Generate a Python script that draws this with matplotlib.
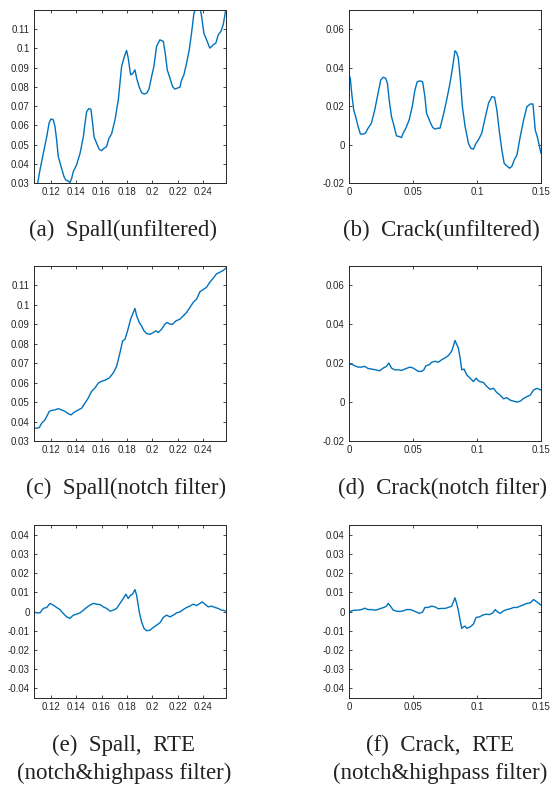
import matplotlib
matplotlib.use("Agg")
import matplotlib.pyplot as plt

# ---------------- data ----------------
# (a) Spall, unfiltered
spall_raw_t = [0.1098, 0.1116, 0.1142, 0.1169, 0.1187, 0.1203, 0.1221, 0.1234, 0.1247, 0.1260,
               0.1286, 0.1305, 0.1318, 0.1339, 0.1352, 0.1365, 0.1378, 0.1404, 0.1431, 0.1457,
               0.1470, 0.1483, 0.1501, 0.1517, 0.1530, 0.1541, 0.1562, 0.1582, 0.1600, 0.1619,
               0.1640, 0.1658, 0.1679, 0.1706, 0.1732, 0.1758, 0.1776, 0.1797, 0.1810, 0.1829,
               0.1844, 0.1863, 0.1876, 0.1897, 0.1915, 0.1934, 0.1955, 0.1973, 0.1994, 0.2012,
               0.2033, 0.2059, 0.2086, 0.2101, 0.2117, 0.2138, 0.2159, 0.2177, 0.2196, 0.2217,
               0.2230, 0.2248, 0.2269, 0.2290, 0.2308, 0.2327, 0.2348, 0.2374, 0.2387, 0.2405,
               0.2426, 0.2452, 0.2478, 0.2499, 0.2518, 0.2539, 0.2557, 0.2578]
spall_raw_v = [0.0300, 0.0368, 0.0454, 0.0540, 0.0610, 0.0633, 0.0628, 0.0593, 0.0524, 0.0437,
               0.0376, 0.0333, 0.0316, 0.0310, 0.0302, 0.0324, 0.0359, 0.0394, 0.0454, 0.0540,
               0.0610, 0.0671, 0.0687, 0.0683, 0.0610, 0.0540, 0.0506, 0.0475, 0.0468, 0.0480,
               0.0489, 0.0532, 0.0555, 0.0628, 0.0732, 0.0906, 0.0949, 0.0989, 0.0949, 0.0862,
               0.0867, 0.0888, 0.0845, 0.0798, 0.0770, 0.0762, 0.0767, 0.0788, 0.0853, 0.0906,
               0.1010, 0.1044, 0.1036, 0.0975, 0.0888, 0.0845, 0.0801, 0.0788, 0.0793, 0.0798,
               0.0836, 0.0862, 0.0923, 0.0992, 0.1079, 0.1183, 0.1215, 0.1215, 0.1166, 0.1079,
               0.1044, 0.1001, 0.1018, 0.1027, 0.1070, 0.1088, 0.1122, 0.1204]

# (b) Crack, unfiltered
crack_raw_t = [0.0000, 0.0010, 0.0024, 0.0037, 0.0052, 0.0071, 0.0089, 0.0110, 0.0128, 0.0149,
               0.0175, 0.0201, 0.0227, 0.0248, 0.0267, 0.0287, 0.0300, 0.0314, 0.0332, 0.0353,
               0.0371, 0.0392, 0.0410, 0.0423, 0.0444, 0.0470, 0.0494, 0.0515, 0.0533, 0.0554,
               0.0575, 0.0593, 0.0606, 0.0632, 0.0653, 0.0672, 0.0690, 0.0711, 0.0737, 0.0763,
               0.0789, 0.0810, 0.0828, 0.0841, 0.0854, 0.0868, 0.0886, 0.0907, 0.0933, 0.0951,
               0.0972, 0.0993, 0.1011, 0.1037, 0.1063, 0.1090, 0.1116, 0.1137, 0.1155, 0.1176,
               0.1194, 0.1212, 0.1233, 0.1254, 0.1272, 0.1291, 0.1312, 0.1338, 0.1364, 0.1390,
               0.1416, 0.1437, 0.1455, 0.1474, 0.1500]
crack_raw_v = [0.0362, 0.0345, 0.0249, 0.0180, 0.0145, 0.0094, 0.0055, 0.0054, 0.0059, 0.0085,
               0.0111, 0.0180, 0.0267, 0.0336, 0.0350, 0.0345, 0.0319, 0.0232, 0.0145, 0.0094,
               0.0045, 0.0042, 0.0036, 0.0059, 0.0085, 0.0128, 0.0197, 0.0284, 0.0327, 0.0331,
               0.0327, 0.0249, 0.0163, 0.0120, 0.0090, 0.0080, 0.0085, 0.0085, 0.0154, 0.0232,
               0.0319, 0.0405, 0.0488, 0.0478, 0.0449, 0.0353, 0.0197, 0.0094, 0.0007, -0.0019,
               -0.0024, 0.0007, 0.0024, 0.0059, 0.0137, 0.0215, 0.0249, 0.0246, 0.0180, 0.0059,
               -0.0028, -0.0097, -0.0111, -0.0123, -0.0114, -0.0080, -0.0054, 0.0042, 0.0128, 0.0197,
               0.0211, 0.0211, 0.0076, 0.0033, -0.0045]

# (c) Spall, notch filter
spall_notch_t = [0.1069, 0.1090, 0.1111, 0.1129, 0.1155, 0.1169, 0.1189, 0.1208, 0.1234, 0.1260,
                 0.1286, 0.1313, 0.1339, 0.1360, 0.1383, 0.1410, 0.1444, 0.1470, 0.1496, 0.1522,
                 0.1548, 0.1575, 0.1601, 0.1627, 0.1661, 0.1693, 0.1719, 0.1745, 0.1766, 0.1784,
                 0.1805, 0.1829, 0.1850, 0.1863, 0.1876, 0.1897, 0.1915, 0.1934, 0.1955, 0.1981,
                 0.2007, 0.2028, 0.2046, 0.2072, 0.2098, 0.2117, 0.2138, 0.2159, 0.2185, 0.2217,
                 0.2243, 0.2269, 0.2295, 0.2321, 0.2348, 0.2374, 0.2400, 0.2426, 0.2452, 0.2478,
                 0.2505, 0.2531, 0.2557, 0.2578]
spall_notch_v = [0.0366, 0.0366, 0.0369, 0.0391, 0.0409, 0.0426, 0.0452, 0.0457, 0.0460, 0.0466,
                 0.0460, 0.0452, 0.0440, 0.0434, 0.0447, 0.0457, 0.0469, 0.0495, 0.0521, 0.0555,
                 0.0572, 0.0598, 0.0607, 0.0612, 0.0624, 0.0650, 0.0684, 0.0753, 0.0814, 0.0822,
                 0.0866, 0.0926, 0.0960, 0.0981, 0.0943, 0.0909, 0.0891, 0.0866, 0.0852, 0.0848,
                 0.0857, 0.0866, 0.0857, 0.0874, 0.0900, 0.0909, 0.0900, 0.0900, 0.0917, 0.0926,
                 0.0943, 0.0960, 0.0986, 0.1012, 0.1029, 0.1067, 0.1078, 0.1090, 0.1116, 0.1136,
                 0.1159, 0.1167, 0.1176, 0.1188]

# (d) Crack, notch filter
crack_notch_t = [0.0000, 0.0018, 0.0044, 0.0071, 0.0097, 0.0123, 0.0149, 0.0175, 0.0209, 0.0240,
                 0.0267, 0.0293, 0.0311, 0.0332, 0.0358, 0.0384, 0.0410, 0.0444, 0.0476, 0.0502,
                 0.0523, 0.0541, 0.0567, 0.0585, 0.0601, 0.0627, 0.0645, 0.0672, 0.0698, 0.0724,
                 0.0750, 0.0776, 0.0802, 0.0815, 0.0828, 0.0841, 0.0854, 0.0868, 0.0881, 0.0899,
                 0.0920, 0.0946, 0.0972, 0.0993, 0.1019, 0.1050, 0.1077, 0.1103, 0.1129, 0.1155,
                 0.1181, 0.1207, 0.1233, 0.1259, 0.1286, 0.1312, 0.1338, 0.1364, 0.1390, 0.1416,
                 0.1442, 0.1468, 0.1500]
crack_notch_v = [0.0192, 0.0196, 0.0187, 0.0180, 0.0180, 0.0184, 0.0173, 0.0170, 0.0166, 0.0161,
                 0.0175, 0.0184, 0.0201, 0.0175, 0.0166, 0.0166, 0.0163, 0.0172, 0.0180, 0.0175,
                 0.0166, 0.0158, 0.0158, 0.0166, 0.0187, 0.0192, 0.0205, 0.0210, 0.0205, 0.0218,
                 0.0227, 0.0239, 0.0262, 0.0288, 0.0317, 0.0297, 0.0279, 0.0227, 0.0166, 0.0170,
                 0.0140, 0.0123, 0.0106, 0.0123, 0.0106, 0.0101, 0.0080, 0.0066, 0.0071, 0.0049,
                 0.0036, 0.0017, 0.0023, 0.0010, 0.0005, 0.0000, 0.0005, 0.0019, 0.0028, 0.0036,
                 0.0062, 0.0071, 0.0062]

# (e) Spall, RTE (notch & highpass)
spall_rte_t = [0.1069, 0.1090, 0.1116, 0.1142, 0.1169, 0.1195, 0.1221, 0.1247, 0.1273, 0.1299,
               0.1326, 0.1352, 0.1378, 0.1404, 0.1431, 0.1457, 0.1483, 0.1509, 0.1536, 0.1562,
               0.1588, 0.1614, 0.1640, 0.1666, 0.1693, 0.1719, 0.1745, 0.1771, 0.1792, 0.1810,
               0.1829, 0.1844, 0.1863, 0.1876, 0.1897, 0.1915, 0.1934, 0.1955, 0.1981, 0.2007,
               0.2033, 0.2059, 0.2086, 0.2112, 0.2138, 0.2164, 0.2191, 0.2217, 0.2243, 0.2269,
               0.2295, 0.2321, 0.2348, 0.2374, 0.2392, 0.2413, 0.2439, 0.2465, 0.2492, 0.2518,
               0.2544, 0.2578]
spall_rte_v = [-0.0002, -0.0007, -0.0007, 0.0016, 0.0021, 0.0042, 0.0033, 0.0021, 0.0010, -0.0010,
               -0.0028, -0.0036, -0.0019, -0.0014, -0.0007, 0.0007, 0.0021, 0.0033, 0.0042, 0.0038,
               0.0036, 0.0024, 0.0016, 0.0002, 0.0007, 0.0016, 0.0042, 0.0068, 0.0090, 0.0068,
               0.0085, 0.0090, 0.0114, 0.0085, -0.0002, -0.0054, -0.0088, -0.0100, -0.0097, -0.0083,
               -0.0071, -0.0059, -0.0031, -0.0019, -0.0028, -0.0019, -0.0007, -0.0002, 0.0010, 0.0021,
               0.0028, 0.0038, 0.0031, 0.0042, 0.0050, 0.0038, 0.0024, 0.0028, 0.0021, 0.0016,
               0.0007, 0.0003]

# (f) Crack, RTE (notch & highpass)
crack_rte_t = [0.0000, 0.0018, 0.0044, 0.0071, 0.0097, 0.0123, 0.0149, 0.0175, 0.0209, 0.0240,
               0.0272, 0.0293, 0.0306, 0.0324, 0.0345, 0.0371, 0.0397, 0.0423, 0.0449, 0.0481,
               0.0507, 0.0528, 0.0549, 0.0575, 0.0593, 0.0619, 0.0645, 0.0672, 0.0698, 0.0724,
               0.0750, 0.0776, 0.0802, 0.0815, 0.0828, 0.0841, 0.0854, 0.0868, 0.0881, 0.0894,
               0.0907, 0.0920, 0.0946, 0.0972, 0.0993, 0.1019, 0.1045, 0.1071, 0.1098, 0.1124,
               0.1142, 0.1160, 0.1181, 0.1207, 0.1233, 0.1259, 0.1286, 0.1312, 0.1338, 0.1364,
               0.1390, 0.1416, 0.1442, 0.1468, 0.1500]
crack_rte_v = [-0.0007, 0.0003, 0.0007, 0.0007, 0.0010, 0.0017, 0.0010, 0.0010, 0.0007, 0.0014,
               0.0021, 0.0028, 0.0042, 0.0028, 0.0007, 0.0002, 0.0000, 0.0003, 0.0010, 0.0010,
               0.0003, -0.0003, -0.0010, -0.0003, 0.0021, 0.0021, 0.0028, 0.0024, 0.0014, 0.0016,
               0.0016, 0.0021, 0.0028, 0.0050, 0.0071, 0.0042, 0.0007, -0.0045, -0.0088, -0.0080,
               -0.0076, -0.0088, -0.0080, -0.0066, -0.0031, -0.0028, -0.0019, -0.0014, -0.0016, -0.0007,
               0.0010, -0.0002, -0.0010, 0.0003, 0.0010, 0.0014, 0.0021, 0.0021, 0.0028, 0.0035,
               0.0042, 0.0045, 0.0062, 0.0050, 0.0033]

# tick labels
spall_xticks = [0.12, 0.14, 0.16, 0.18, 0.20, 0.22, 0.24]
spall_xlabels = ["0.12", "0.14", "0.16", "0.18", "0.2", "0.22", "0.24"]
crack_xticks = [0.0, 0.05, 0.10, 0.15]
crack_xlabels = ["0", "0.05", "0.1", "0.15"]
spall_yticks = [0.03, 0.04, 0.05, 0.06, 0.07, 0.08, 0.09, 0.10, 0.11]
spall_ylabels = ["0.03", "0.04", "0.05", "0.06", "0.07", "0.08", "0.09", "0.1", "0.11"]
crack_yticks = [-0.02, 0.0, 0.02, 0.04, 0.06]
crack_ylabels = ["-0.02", "0", "0.02", "0.04", "0.06"]
rte_yticks = [-0.04, -0.03, -0.02, -0.01, 0.0, 0.01, 0.02, 0.03, 0.04]
rte_ylabels = ["-0.04", "-0.03", "-0.02", "-0.01", "0", "0.01", "0.02", "0.03", "0.04"]

captions = [
    ["(a)  Spall(unfiltered)"], ["(b)  Crack(unfiltered)"],
    ["(c)  Spall(notch filter)"], ["(d)  Crack(notch filter)"],
    ["(e)  Spall,  RTE", "(notch&highpass filter)"],
    ["(f)  Crack,  RTE", "(notch&highpass filter)"],
]

# ---------------- figure ----------------
W, H = 558, 787
fig = plt.figure(figsize=(W / 100, H / 100), dpi=100)

def px_axes(l, t, r, b):
    return fig.add_axes([l / W, 1 - b / H, (r - l) / W, (b - t) / H])

LINE = "#0072BD"
TXT = "#262626"

panels = [
    ((34, 10, 226, 183), spall_raw_t, spall_raw_v, (0.1069, 0.2579), spall_xticks, spall_xlabels,
     (0.03, 0.1199), spall_yticks, spall_ylabels),
    ((349, 10, 541, 183), crack_raw_t, crack_raw_v, (0.0, 0.15), crack_xticks, crack_xlabels,
     (-0.02, 0.07), crack_yticks, crack_ylabels),
    ((34, 266, 226, 441), spall_notch_t, spall_notch_v, (0.1069, 0.2579), spall_xticks, spall_xlabels,
     (0.03, 0.1199), spall_yticks, spall_ylabels),
    ((349, 266, 541, 441), crack_notch_t, crack_notch_v, (0.0, 0.15), crack_xticks, crack_xlabels,
     (-0.02, 0.07), crack_yticks, crack_ylabels),
    ((34, 525, 226, 698), spall_rte_t, spall_rte_v, (0.1069, 0.2579), spall_xticks, spall_xlabels,
     (-0.045, 0.045), rte_yticks, rte_ylabels),
    ((349, 525, 541, 698), crack_rte_t, crack_rte_v, (0.0, 0.15), crack_xticks, crack_xlabels,
     (-0.045, 0.045), rte_yticks, rte_ylabels),
]

for (box, t, v, xl, xt, xlab, yl, yt, ylab) in panels:
    ax = px_axes(*box)
    ax.plot(t, v, color=LINE, lw=1.0)
    ax.set_xlim(*xl)
    ax.set_ylim(*yl)
    ax.set_xticks(xt)
    ax.set_xticklabels(xlab)
    ax.set_yticks(yt)
    ax.set_yticklabels(ylab)
    ax.tick_params(direction="in", length=2.5, width=0.6, top=True, right=True,
                   labelsize=7, colors=TXT, pad=3)
    for lbl in ax.get_xticklabels() + ax.get_yticklabels():
        lbl.set_fontfamily("Liberation Sans")
    for s in ax.spines.values():
        s.set_color(TXT)
        s.set_linewidth(0.7)

cap_font = dict(family="Liberation Serif", fontsize=16.5, color="#222222",
                ha="center", va="center")
cap_pos = [(123, [230]), (441, [230]), (126, [488]), (442, [488]),
           (124, [745, 773]), (440, [745, 773])]
for lines, (cx, ys) in zip(captions, cap_pos):
    for line, cy in zip(lines, ys):
        fig.text(cx / W, 1 - cy / H, line, **cap_font)

fig.savefig("out.png", dpi=100)
